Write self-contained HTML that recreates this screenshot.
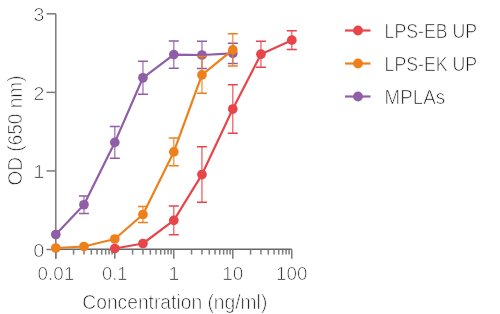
<!DOCTYPE html>
<html><head><meta charset="utf-8"><style>
html,body{margin:0;padding:0;background:#fff;width:500px;height:314px;overflow:hidden}
svg{display:block;will-change:transform}
text{font-family:"Liberation Sans",sans-serif;fill:#1a1a1a;font-size:20px;stroke:#fff;stroke-width:0.7px}
</style></head><body>
<svg width="500" height="314" viewBox="0 0 500 314">
<g stroke="#7a7a7a" stroke-width="1.5" fill="none">
<path d="M55.8,13.8V258.8"/>
<path d="M55.8,249.3H291.80" stroke="#666" stroke-width="1.4"/>
<path d="M46.5,249.50H55.8"/>
<path d="M46.5,170.93H55.8"/>
<path d="M46.5,92.37H55.8"/>
<path d="M46.5,13.80H55.8"/>
<path d="M55.80,249.5V258.8"/>
<path d="M114.80,249.5V258.8"/>
<path d="M173.80,249.5V258.8"/>
<path d="M232.80,249.5V258.8"/>
<path d="M291.80,249.5V258.8"/>
<path d="M73.56,249.5V254.6"/>
<path d="M83.95,249.5V254.6"/>
<path d="M91.32,249.5V254.6"/>
<path d="M97.04,249.5V254.6"/>
<path d="M101.71,249.5V254.6"/>
<path d="M105.66,249.5V254.6"/>
<path d="M109.08,249.5V254.6"/>
<path d="M112.10,249.5V254.6"/>
<path d="M132.56,249.5V254.6"/>
<path d="M142.95,249.5V254.6"/>
<path d="M150.32,249.5V254.6"/>
<path d="M156.04,249.5V254.6"/>
<path d="M160.71,249.5V254.6"/>
<path d="M164.66,249.5V254.6"/>
<path d="M168.08,249.5V254.6"/>
<path d="M171.10,249.5V254.6"/>
<path d="M191.56,249.5V254.6"/>
<path d="M201.95,249.5V254.6"/>
<path d="M209.32,249.5V254.6"/>
<path d="M215.04,249.5V254.6"/>
<path d="M219.71,249.5V254.6"/>
<path d="M223.66,249.5V254.6"/>
<path d="M227.08,249.5V254.6"/>
<path d="M230.10,249.5V254.6"/>
<path d="M250.56,249.5V254.6"/>
<path d="M260.95,249.5V254.6"/>
<path d="M268.32,249.5V254.6"/>
<path d="M274.04,249.5V254.6"/>
<path d="M278.71,249.5V254.6"/>
<path d="M282.66,249.5V254.6"/>
<path d="M286.08,249.5V254.6"/>
<path d="M289.10,249.5V254.6"/>
</g>
<g>
<path d="M83.95,196V213.5" stroke="#8f5ea6" stroke-width="1.3" opacity="0.85"/>
<path d="M78.95,196H88.95M78.95,213.5H88.95" stroke="#8f5ea6" stroke-width="1.6"/>
<path d="M114.80,126.5V158.3" stroke="#8f5ea6" stroke-width="1.3" opacity="0.85"/>
<path d="M109.80,126.5H119.80M109.80,158.3H119.80" stroke="#8f5ea6" stroke-width="1.6"/>
<path d="M142.95,61.3V94.3" stroke="#8f5ea6" stroke-width="1.3" opacity="0.85"/>
<path d="M137.95,61.3H147.95M137.95,94.3H147.95" stroke="#8f5ea6" stroke-width="1.6"/>
<path d="M173.80,41V68.3" stroke="#8f5ea6" stroke-width="1.3" opacity="0.85"/>
<path d="M168.80,41H178.80M168.80,68.3H178.80" stroke="#8f5ea6" stroke-width="1.6"/>
<path d="M201.95,41.3V68.5" stroke="#8f5ea6" stroke-width="1.3" opacity="0.85"/>
<path d="M196.95,41.3H206.95M196.95,68.5H206.95" stroke="#8f5ea6" stroke-width="1.6"/>
<path d="M232.80,43.3V63.5" stroke="#8f5ea6" stroke-width="1.3" opacity="0.85"/>
<path d="M227.80,43.3H237.80M227.80,63.5H237.80" stroke="#8f5ea6" stroke-width="1.6"/>
<polyline points="55.80,234.5 83.95,204.75 114.80,142.4 142.95,77.8 173.80,54.6 201.95,55 232.80,53.4" fill="none" stroke="#8f5ea6" stroke-width="2.2" stroke-linejoin="round"/>
<circle cx="55.80" cy="234.5" r="4.85" fill="#8f5ea6"/>
<circle cx="83.95" cy="204.75" r="4.85" fill="#8f5ea6"/>
<circle cx="114.80" cy="142.4" r="4.85" fill="#8f5ea6"/>
<circle cx="142.95" cy="77.8" r="4.85" fill="#8f5ea6"/>
<circle cx="173.80" cy="54.6" r="4.85" fill="#8f5ea6"/>
<circle cx="201.95" cy="55" r="4.85" fill="#8f5ea6"/>
<circle cx="232.80" cy="53.4" r="4.85" fill="#8f5ea6"/>
</g>
<g>
<path d="M142.95,206.5V222.5" stroke="#ee801c" stroke-width="1.3" opacity="0.85"/>
<path d="M137.95,206.5H147.95M137.95,222.5H147.95" stroke="#ee801c" stroke-width="1.6"/>
<path d="M173.80,138V165.8" stroke="#ee801c" stroke-width="1.3" opacity="0.85"/>
<path d="M168.80,138H178.80M168.80,165.8H178.80" stroke="#ee801c" stroke-width="1.6"/>
<path d="M201.95,56.5V93.3" stroke="#ee801c" stroke-width="1.3" opacity="0.85"/>
<path d="M196.95,56.5H206.95M196.95,93.3H206.95" stroke="#ee801c" stroke-width="1.6"/>
<path d="M232.80,33.8V66" stroke="#ee801c" stroke-width="1.3" opacity="0.85"/>
<path d="M227.80,33.8H237.80M227.80,66H237.80" stroke="#ee801c" stroke-width="1.6"/>
<polyline points="55.80,248 83.95,246.5 114.80,239 142.95,214.5 173.80,151.9 201.95,74.9 232.80,49.9" fill="none" stroke="#ee801c" stroke-width="2.2" stroke-linejoin="round"/>
<circle cx="55.80" cy="248" r="4.85" fill="#ee801c"/>
<circle cx="83.95" cy="246.5" r="4.85" fill="#ee801c"/>
<circle cx="114.80" cy="239" r="4.85" fill="#ee801c"/>
<circle cx="142.95" cy="214.5" r="4.85" fill="#ee801c"/>
<circle cx="173.80" cy="151.9" r="4.85" fill="#ee801c"/>
<circle cx="201.95" cy="74.9" r="4.85" fill="#ee801c"/>
<circle cx="232.80" cy="49.9" r="4.85" fill="#ee801c"/>
</g>
<g>
<path d="M173.80,206V234.8" stroke="#e8454a" stroke-width="1.3" opacity="0.85"/>
<path d="M168.80,206H178.80M168.80,234.8H178.80" stroke="#e8454a" stroke-width="1.6"/>
<path d="M201.95,146.8V202.3" stroke="#e8454a" stroke-width="1.3" opacity="0.85"/>
<path d="M196.95,146.8H206.95M196.95,202.3H206.95" stroke="#e8454a" stroke-width="1.6"/>
<path d="M232.80,84.8V133.3" stroke="#e8454a" stroke-width="1.3" opacity="0.85"/>
<path d="M227.80,84.8H237.80M227.80,133.3H237.80" stroke="#e8454a" stroke-width="1.6"/>
<path d="M260.95,41.2V67.2" stroke="#e8454a" stroke-width="1.3" opacity="0.85"/>
<path d="M255.95,41.2H265.95M255.95,67.2H265.95" stroke="#e8454a" stroke-width="1.6"/>
<path d="M291.80,30.8V49.5" stroke="#e8454a" stroke-width="1.3" opacity="0.85"/>
<path d="M286.80,30.8H296.80M286.80,49.5H296.80" stroke="#e8454a" stroke-width="1.6"/>
<polyline points="114.80,248.5 142.95,243.5 173.80,220.4 201.95,174.55 232.80,109.05 260.95,54.2 291.80,40.15" fill="none" stroke="#e8454a" stroke-width="2.2" stroke-linejoin="round"/>
<circle cx="114.80" cy="248.5" r="4.85" fill="#e8454a"/>
<circle cx="142.95" cy="243.5" r="4.85" fill="#e8454a"/>
<circle cx="173.80" cy="220.4" r="4.85" fill="#e8454a"/>
<circle cx="201.95" cy="174.55" r="4.85" fill="#e8454a"/>
<circle cx="232.80" cy="109.05" r="4.85" fill="#e8454a"/>
<circle cx="260.95" cy="54.2" r="4.85" fill="#e8454a"/>
<circle cx="291.80" cy="40.15" r="4.85" fill="#e8454a"/>
</g>
<path d="M345,30.5H370.5" stroke="#e8454a" stroke-width="2.2"/>
<circle cx="358" cy="30.5" r="4.9" fill="#e8454a"/>
<text x="384.6" y="38.3" textLength="92.5" lengthAdjust="spacingAndGlyphs">LPS-EB UP</text>
<path d="M345,63.5H370.5" stroke="#ee801c" stroke-width="2.2"/>
<circle cx="358" cy="63.5" r="4.9" fill="#ee801c"/>
<text x="384.6" y="71.3" textLength="92.5" lengthAdjust="spacingAndGlyphs">LPS-EK UP</text>
<path d="M345,96.5H370.5" stroke="#8f5ea6" stroke-width="2.2"/>
<circle cx="358" cy="96.5" r="4.9" fill="#8f5ea6"/>
<text x="384.6" y="104.3" textLength="60.5" lengthAdjust="spacingAndGlyphs">MPLAs</text>
<text x="44.4" y="257.00" text-anchor="end" style="font-size:17.5px" textLength="11.2" lengthAdjust="spacingAndGlyphs">0</text>
<text x="44.4" y="178.43" text-anchor="end" style="font-size:17.5px" textLength="11.2" lengthAdjust="spacingAndGlyphs">1</text>
<text x="44.4" y="99.87" text-anchor="end" style="font-size:17.5px" textLength="11.2" lengthAdjust="spacingAndGlyphs">2</text>
<text x="44.4" y="21.30" text-anchor="end" style="font-size:17.5px" textLength="11.2" lengthAdjust="spacingAndGlyphs">3</text>
<text x="55.80" y="279.8" text-anchor="middle" style="font-size:17.5px" textLength="36.6" lengthAdjust="spacingAndGlyphs">0.01</text>
<text x="114.80" y="279.8" text-anchor="middle" style="font-size:17.5px" textLength="25.8" lengthAdjust="spacingAndGlyphs">0.1</text>
<text x="173.80" y="279.8" text-anchor="middle" style="font-size:17.5px" textLength="11.2" lengthAdjust="spacingAndGlyphs">1</text>
<text x="232.80" y="279.8" text-anchor="middle" style="font-size:17.5px" textLength="21.2" lengthAdjust="spacingAndGlyphs">10</text>
<text x="291.80" y="279.8" text-anchor="middle" style="font-size:17.5px" textLength="31.4" lengthAdjust="spacingAndGlyphs">100</text>
<text x="82.3" y="309" textLength="185" lengthAdjust="spacingAndGlyphs">Concentration (ng/ml)</text>
<text transform="translate(22,185.5) rotate(-90)" x="0" y="0" textLength="110" lengthAdjust="spacingAndGlyphs">OD (650 nm)</text>
</svg>
</body></html>
